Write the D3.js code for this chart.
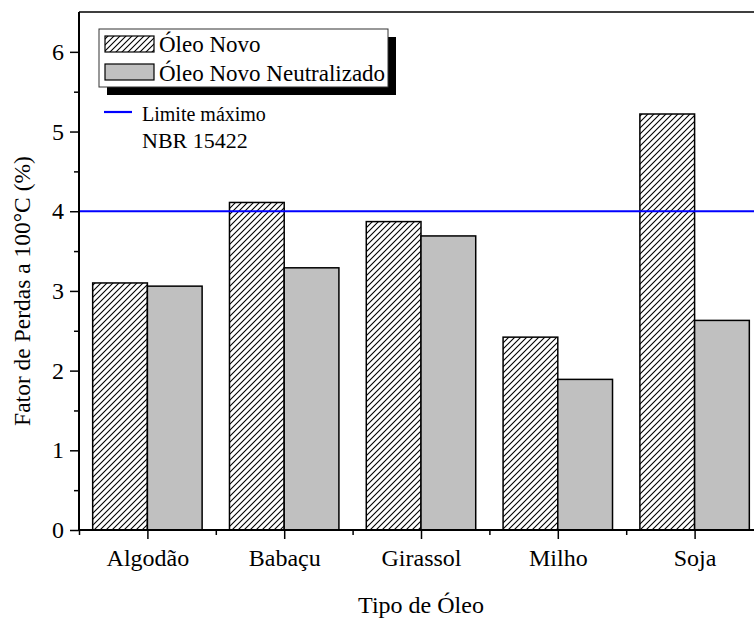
<!DOCTYPE html>
<html>
<head>
<meta charset="utf-8">
<script src="https://cdn.jsdelivr.net/npm/d3@7"></script>
<style>
  html, body { margin: 0; padding: 0; background: #fff; }
  svg { display: block; }
</style>
</head>
<body>
<svg id="chart" width="754" height="623"></svg>
<script>
// Oil types and loss factor values (%) at 100 °C
const categories = ["Algodão", "Babaçu", "Girassol", "Milho", "Soja"];
const oleoNovo = [3.10, 4.11, 3.87, 2.42, 5.22];
const oleoNeutralizado = [3.06, 3.29, 3.69, 1.89, 2.63];
const limiteNBR = 4.0;
const yTicks = [0, 1, 2, 3, 4, 5, 6];
const seriesNames = ["Óleo Novo", "Óleo Novo Neutralizado"];

const FONT = "'Liberation Serif'";
const svg = d3.select("#chart");
const plot = { left: 79, right: 763, top: 12, bottom: 530 };

const x = d3.scaleLinear().domain([-0.5, categories.length - 0.5]).range([plot.left, plot.right]);
const y = d3.scaleLinear().domain([0, 6.5]).range([plot.bottom, plot.top]);
const barW = 0.4;

// diagonal hatch pattern
const defs = svg.append("defs");
const pat = defs.append("pattern")
  .attr("id", "hatch")
  .attr("patternUnits", "userSpaceOnUse")
  .attr("width", 6).attr("height", 6);
pat.append("rect").attr("width", 6).attr("height", 6).attr("fill", "#fff");
pat.append("path")
  .attr("d", "M-1,1 L1,-1 M0,6 L6,0 M5,7 L7,5")
  .attr("stroke", "#000").attr("stroke-width", 1.1);

// bars
const g = svg.append("g");
g.selectAll("rect.novo").data(oleoNovo).join("rect")
  .attr("class", "novo")
  .attr("x", (d, i) => x(i - barW))
  .attr("width", (d, i) => x(i) - x(i - barW))
  .attr("y", d => y(d))
  .attr("height", d => y(0) - y(d))
  .attr("fill", "url(#hatch)")
  .attr("stroke", "#000").attr("stroke-width", 1.5);

g.selectAll("rect.neut").data(oleoNeutralizado).join("rect")
  .attr("class", "neut")
  .attr("x", (d, i) => x(i))
  .attr("width", (d, i) => x(i + barW) - x(i))
  .attr("y", d => y(d))
  .attr("height", d => y(0) - y(d))
  .attr("fill", "#c0c0c0")
  .attr("stroke", "#000").attr("stroke-width", 1.5);

// limit line
svg.append("line")
  .attr("x1", plot.left).attr("x2", plot.right)
  .attr("y1", y(limiteNBR)).attr("y2", y(limiteNBR))
  .attr("stroke", "#0000ff").attr("stroke-width", 2.2);

// frame (top and right)
svg.append("path")
  .attr("d", `M${plot.left},${plot.top} H${plot.right} V${plot.bottom}`)
  .attr("fill", "none").attr("stroke", "#000").attr("stroke-width", 1.5);

// y axis
const yMinor = d3.range(0.5, 6.5, 1);
svg.append("g")
  .attr("transform", `translate(${plot.left},0)`)
  .call(d3.axisLeft(y).tickValues(yMinor).tickSize(5).tickFormat(""))
  .call(a => a.select(".domain").remove())
  .call(a => a.selectAll("line").attr("stroke-width", 1.5));
const yAxis = svg.append("g")
  .attr("transform", `translate(${plot.left},0)`)
  .call(d3.axisLeft(y).tickValues(yTicks).tickSize(9).tickPadding(6).tickFormat(d3.format("d")));
yAxis.select(".domain").attr("d", `M0,${plot.top}V${plot.bottom}`).attr("stroke-width", 2);
yAxis.selectAll("line").attr("stroke-width", 1.5);
yAxis.selectAll("text").attr("font-size", 24).style("font-family", FONT).attr("fill", "#000");

// x axis
const xMinor = d3.range(-0.5, categories.length, 1);
svg.append("g")
  .attr("transform", `translate(0,${plot.bottom})`)
  .call(d3.axisBottom(x).tickValues(xMinor).tickSize(5).tickFormat(""))
  .call(a => a.select(".domain").remove())
  .call(a => a.selectAll("line").attr("stroke-width", 1.5));
const xAxis = svg.append("g")
  .attr("transform", `translate(0,${plot.bottom})`)
  .call(d3.axisBottom(x).tickValues(d3.range(categories.length)).tickSize(9).tickPadding(10)
    .tickFormat(i => categories[i]));
xAxis.select(".domain").attr("d", `M${plot.left},0H${plot.right}`).attr("stroke-width", 2);
xAxis.selectAll("line").attr("stroke-width", 1.5);
xAxis.selectAll("text").attr("font-size", 24).style("font-family", FONT).attr("fill", "#000");

// axis titles
svg.append("text")
  .attr("x", (plot.left + plot.right) / 2).attr("y", 613)
  .attr("text-anchor", "middle").attr("font-size", 24).style("font-family", FONT)
  .text("Tipo de Óleo");
svg.append("text")
  .attr("transform", `translate(30,${(plot.top + plot.bottom) / 2 + 20}) rotate(-90)`)
  .attr("text-anchor", "middle").attr("font-size", 23.5).style("font-family", FONT)
  .text("Fator de Perdas a 100°C (%)");

// legend
const leg = svg.append("g");
leg.append("rect").attr("x", 107).attr("y", 37).attr("width", 289).attr("height", 58).attr("fill", "#000");
leg.append("rect").attr("x", 99).attr("y", 29).attr("width", 289).attr("height", 58)
  .attr("fill", "#fff").attr("stroke", "#333").attr("stroke-width", 1);
const swatchFills = ["url(#hatch)", "#c0c0c0"];
seriesNames.forEach((name, i) => {
  leg.append("rect")
    .attr("x", 105).attr("y", 36 + i * 28).attr("width", 49).attr("height", 16)
    .attr("fill", swatchFills[i]).attr("stroke", "#000").attr("stroke-width", 1.2);
  leg.append("text")
    .attr("x", 159).attr("y", 52 + i * 28.5)
    .attr("font-size", 23).style("font-family", FONT).text(name);
});

svg.append("line")
  .attr("x1", 104).attr("x2", 132).attr("y1", 112).attr("y2", 112)
  .attr("stroke", "#0000ff").attr("stroke-width", 2.2);
svg.append("text").attr("x", 142).attr("y", 121).attr("font-size", 20)
  .style("font-family", FONT).text("Limite máximo");
svg.append("text").attr("x", 142).attr("y", 148).attr("font-size", 22)
  .style("font-family", FONT).text("NBR 15422");
</script>
</body>
</html>
